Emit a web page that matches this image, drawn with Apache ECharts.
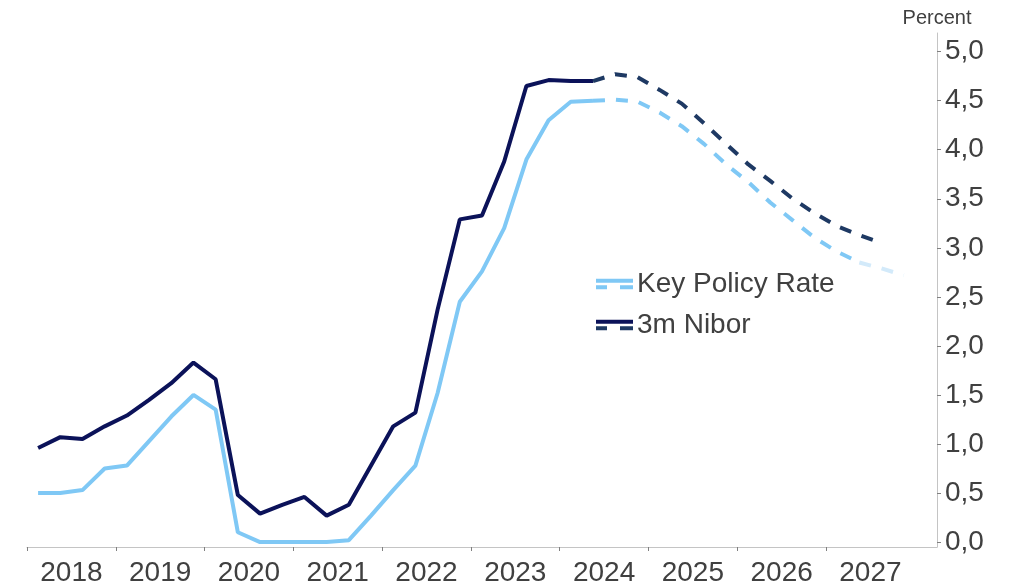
<!DOCTYPE html>
<html>
<head>
<meta charset="utf-8">
<script src="https://cdn.jsdelivr.net/npm/echarts@6/dist/echarts.min.js"></script>
<style>
  html, body { margin: 0; padding: 0; background: #ffffff; }
  #chart { width: 1013px; height: 586px; }
</style>
</head>
<body>
<div id="chart"></div>
<script>
// Quarterly observations, 2018Q1 - 2027Q4
const quarters = [];
for (let y = 2018; y <= 2027; y++) for (let q = 1; q <= 4; q++) quarters.push(y + 'Q' + q);

const yearLabels = ['2018', '2019', '2020', '2021', '2022', '2023', '2024', '2025', '2026', '2027'];
const yTickValues = [0, 0.5, 1, 1.5, 2, 2.5, 3, 3.5, 4, 4.5, 5];

// Outturns, 2018Q1 - 2024Q2
const keyPolicyRate = [0.50, 0.50, 0.53, 0.75, 0.78, 1.03, 1.28, 1.50, 1.35, 0.10,
  0.00, 0.00, 0.00, 0.00, 0.02, 0.27, 0.53, 0.78, 1.52, 2.45,
  2.76, 3.20, 3.90, 4.30, 4.49, 4.50];
const nibor3m = [0.96, 1.07, 1.05, 1.18, 1.29, 1.45, 1.62, 1.83, 1.66, 0.48,
  0.29, 0.38, 0.46, 0.27, 0.38, 0.78, 1.18, 1.32, 2.37, 3.29,
  3.33, 3.88, 4.65, 4.71, 4.70, 4.70];

// Projections, from 2024Q2
const forecastStart = quarters.indexOf('2024Q2');
const keyPolicyForecast = [4.50, 4.51, 4.49, 4.38, 4.24, 4.06, 3.85, 3.67, 3.46, 3.28,
  3.10, 2.96, 2.85, 2.79, 2.72];
const niborForecast = [4.70, 4.77, 4.74, 4.61, 4.47, 4.27, 4.06, 3.85, 3.68, 3.50,
  3.35, 3.22, 3.13, 3.05];
// Tail of the key rate path drawn in a paler tone
const paleFrom = quarters.indexOf('2027Q2');

const LIGHT = '#7fc8f5';
const PALE = '#d3eafa';
const NAVY = '#0b1259';
const NAVY_DASH = '#1e3963';
const TEXT = '#404040';
const FONT = '"Liberation Sans", Arial, sans-serif';

const pts = (arr, start) => arr.map((v, i) => [start + i + 0.5, v]);

const keyFcPts = pts(keyPolicyForecast, forecastStart);
const keyMain = keyFcPts.filter(p => p[0] <= paleFrom + 0.5);
const keyPale = keyFcPts.filter(p => p[0] >= paleFrom + 0.5);

const legendIcon = 'path://M0,0H37V4H0Z M0,6.5H11V10.5H0Z M24,6.5H37V10.5H24Z';
const splitColor = (top, bottom) => ({
  type: 'linear', x: 0, y: 0, x2: 0, y2: 1,
  colorStops: [
    { offset: 0, color: top }, { offset: 0.5, color: top },
    { offset: 0.5, color: bottom }, { offset: 1, color: bottom }
  ]
});

const chart = echarts.init(document.getElementById('chart'), null, { renderer: 'canvas' });

const dashed = (color) => ({ width: 4, color: color, type: [12, 11], cap: 'butt' });

chart.setOption({
  animation: false,
  textStyle: { fontFamily: FONT },
  grid: { left: 27, right: 76, top: 33, bottom: 39, containLabel: false, outerBoundsMode: 'none' },
  legend: {
    orient: 'vertical',
    left: 596,
    top: 270,
    padding: 0,
    itemWidth: 37,
    itemHeight: 11,
    itemGap: 13,
    icon: legendIcon,
    selectedMode: false,
    itemStyle: { borderWidth: 0 },
    textStyle: { fontSize: 28, color: TEXT, fontFamily: FONT, padding: [0, 0, 0, -1] },
    data: [
      { name: 'Key Policy Rate', itemStyle: { color: LIGHT } },
      { name: '3m Nibor', itemStyle: { color: splitColor(NAVY, NAVY_DASH) } }
    ]
  },
  xAxis: {
    type: 'value',
    min: 0,
    max: quarters.length + 1,
    axisLine: { onZero: false, lineStyle: { color: '#c4c4c4', width: 1 } },
    axisTick: {
      show: true, length: 4, lineStyle: { color: '#808080' },
      customValues: yearLabels.map((_, i) => i * 4)
    },
    axisLabel: {
      customValues: yearLabels.map((_, i) => i * 4 + 2),
      formatter: v => yearLabels[(v - 2) / 4],
      fontSize: 28, color: TEXT, margin: 12, fontFamily: FONT
    },
    splitLine: { show: false }
  },
  yAxis: {
    type: 'value',
    position: 'right',
    min: -0.05,
    max: 5.19,
    name: 'Percent',
    nameLocation: 'end',
    nameGap: 5,
    nameTextStyle: { fontSize: 20, color: TEXT, align: 'center', fontFamily: FONT },
    axisLine: { show: true, onZero: false, lineStyle: { color: '#c4c4c4', width: 1 } },
    axisTick: { show: true, length: 4, lineStyle: { color: '#808080' }, customValues: yTickValues },
    axisLabel: {
      customValues: yTickValues,
      formatter: v => v.toFixed(1).replace('.', ','),
      fontSize: 28, color: TEXT, margin: 8, fontFamily: FONT
    },
    splitLine: { show: false }
  },
  series: [
    {
      name: 'Key Policy Rate', type: 'line', showSymbol: false, symbol: 'none',
      lineStyle: { width: 4, color: LIGHT }, itemStyle: { color: LIGHT },
      data: pts(keyPolicyRate, 0), z: 2
    },
    {
      name: 'Key Policy Rate', type: 'line', showSymbol: false, symbol: 'none',
      lineStyle: dashed(LIGHT), itemStyle: { color: LIGHT },
      data: keyMain, z: 2
    },
    {
      name: 'Key Policy Rate', type: 'line', showSymbol: false, symbol: 'none',
      lineStyle: dashed(PALE), itemStyle: { color: PALE },
      data: keyPale, z: 2
    },
    {
      name: '3m Nibor', type: 'line', showSymbol: false, symbol: 'none',
      lineStyle: { width: 4, color: NAVY }, itemStyle: { color: NAVY },
      data: pts(nibor3m, 0), z: 3
    },
    {
      name: '3m Nibor', type: 'line', showSymbol: false, symbol: 'none',
      lineStyle: dashed(NAVY_DASH), itemStyle: { color: NAVY_DASH },
      data: pts(niborForecast, forecastStart), z: 3
    }
  ]
});
</script>
</body>
</html>
